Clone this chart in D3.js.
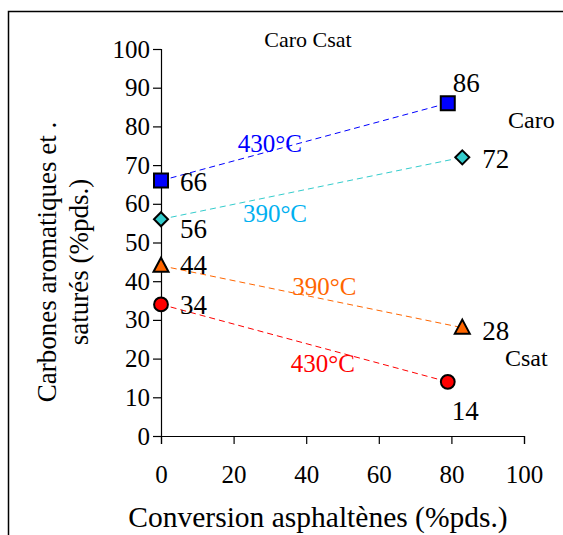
<!DOCTYPE html>
<html><head><meta charset="utf-8">
<script src="https://cdn.jsdelivr.net/npm/d3@7"></script>
<style>body{margin:0;background:#fff;}</style>
</head><body>
<script>
const xTicks = [0, 20, 40, 60, 80, 100];
const yTicks = [0, 10, 20, 30, 40, 50, 60, 70, 80, 90, 100];
const seriesNames = ["Caro 430°C", "Caro 390°C", "Csat 390°C", "Csat 430°C"];
const seriesX = [[0, 79], [0, 83], [0, 83], [0, 79]];
const seriesY = [[66, 86], [56, 72], [44, 28], [34, 14]];
const seriesLabels = [["66", "86"], ["56", "72"], ["44", "28"], ["34", "14"]];
const tempLabels = ["430°C", "390°C", "390°C", "430°C"];
const xTitle = "Conversion asphaltènes (%pds.)";
const yTitle = ["Carbones aromatiques et .", "saturés (%pds.)"];

const FONT = "'Liberation Serif', 'Times New Roman', serif";
const W = 563, H = 535;
const svg = d3.select("body").append("svg").attr("width", W).attr("height", H)
  .attr("font-family", FONT);
svg.append("path").attr("d", `M8.5,${H+2}V11.5H${W+2}`).attr("fill","none").attr("stroke","#000").attr("stroke-width",1.5);

const x = d3.scaleLinear().domain([0, 100]).range([161, 524]);
const y = d3.scaleLinear().domain([0, 100]).range([436, 49]);

const yAx = svg.append("g").attr("transform", "translate(161,0)")
  .call(d3.axisLeft(y).tickValues(yTicks).tickSize(8).tickPadding(3));
const xAx = svg.append("g").attr("transform", "translate(0,436)")
  .call(d3.axisBottom(x).tickValues(xTicks).tickSize(8).tickPadding(21));
[yAx, xAx].forEach(g => {
  g.attr("font-family", FONT).attr("font-size", 25);
  g.selectAll("path").attr("stroke", "#000").attr("stroke-width", 1.2);
  g.selectAll("line").attr("stroke", "#000").attr("stroke-width", 1.2);
  g.selectAll("text").attr("fill", "#000");
});

const lineCols = ["#0000ff", "#33cccc", "#ff6600", "#ff0000"];
const fillCols = ["#0000ff", "#33cccc", "#ff6600", "#ff0000"];
const tempCols = ["#0000ff", "#00b0f0", "#ff6600", "#ff0000"];
const lblOff = [[[19, 10], [5, -11]], [[19, 19], [20, 11]], [[19, 8], [20, 12]], [[19, 10], [4, 38]]];

seriesY.forEach((ys, i) => {
  const pts = ys.map((v, j) => [x(seriesX[i][j]), y(v)]);
  svg.append("path").attr("d", d3.line()(pts)).attr("fill", "none")
    .attr("stroke", lineCols[i]).attr("stroke-width", 1).attr("stroke-dasharray", "6,4");
});
// temperature label anchors in data units
const tempAnchorX = [30, 31.4, 45, 44.6];
const tempAnchorY = [73.4, 55.3, 36.4, 16.5];
tempLabels.forEach((t, i) => {
  svg.append("text").attr("x", x(tempAnchorX[i])).attr("y", y(tempAnchorY[i]))
    .attr("text-anchor", "middle").attr("font-size", 25).attr("fill", tempCols[i]).text(t);
});
function marker(i) {
  if (i === 0) return "M-7,-7H7V7H-7Z";
  if (i === 1) return "M0,-7L7,0L0,7L-7,0Z";
  if (i === 2) return "M0,-8L7.5,6H-7.5Z";
  return d3.symbol().type(d3.symbolCircle).size(150)();
}
seriesY.forEach((ys, i) => {
  ys.forEach((v, j) => {
    const px = x(seriesX[i][j]), py = y(v);
    svg.append("path").attr("d", marker(i))
      .attr("transform", `translate(${px},${py})`)
      .attr("fill", fillCols[i]).attr("stroke", "#000").attr("stroke-width", 2);
    svg.append("text").attr("x", px + lblOff[i][j][0]).attr("y", py + lblOff[i][j][1])
      .attr("font-size", 27).attr("fill", "#000").text(seriesLabels[i][j]);
  });
});
svg.append("text").attr("x", 308).attr("y", 47).attr("text-anchor", "middle").attr("font-size", 22).text("Caro Csat");
svg.append("text").attr("x", 508).attr("y", 128).attr("font-size", 24).text("Caro");
svg.append("text").attr("x", 505).attr("y", 366).attr("font-size", 24).text("Csat");
svg.append("text").attr("x", 318).attr("y", 527).attr("text-anchor", "middle").attr("font-size", 29.5).text(xTitle);
const yt = svg.append("text").attr("transform", "translate(56,262) rotate(-90)").attr("text-anchor", "middle").attr("font-size", 27);
yt.append("tspan").attr("x", 0).attr("dy", 0).text(yTitle[0]);
yt.append("tspan").attr("x", 0).attr("dy", 32).text(yTitle[1]);
</script>
</body></html>
